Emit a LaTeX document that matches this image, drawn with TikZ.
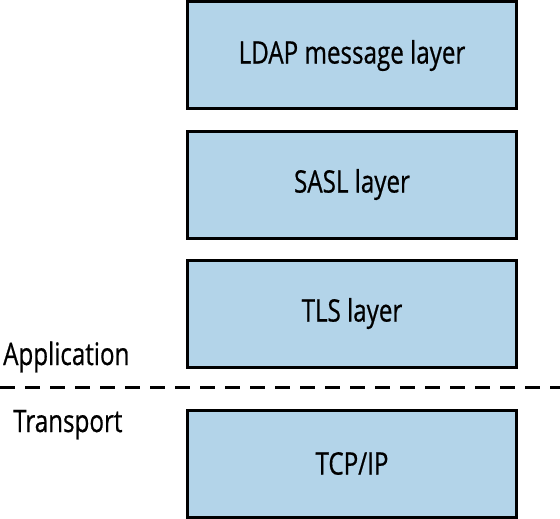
\documentclass[tikz,border=0pt]{standalone}
\usepackage{fontspec}
\setmainfont[FakeStretch=0.78, FakeBold=0.6]{Open Sans}
\usepackage{xcolor}
\usepackage{tikz}
\usetikzlibrary{positioning}

\definecolor{layerblue}{HTML}{B3D4E9}

\begin{document}
\begin{tikzpicture}[
            x=1pt, y=-1pt,
            node distance=19pt,
            layer/.style={rectangle, draw, line width=3pt, fill=layerblue, minimum width=329pt, minimum height=107pt, font=\fontsize{31}{34}\selectfont},
            side/.style={anchor=base west, inner sep=0pt, font=\fontsize{31}{34}\selectfont}
        ]
        \useasboundingbox (0,0) rectangle (560,519);

        \node[layer] (ldap) at (352,55.5) {LDAP message layer};
        \node[layer, below=of ldap] (sasl) {SASL layer};
        \node[layer, below=of sasl] (tls) {TLS layer};
        \node[layer, below=40pt of tls] (tcp) {TCP/IP};

        % Application / Transport split
        \coordinate (split_left) at (0,387);
        \coordinate (split_right) at (560,387);
        \draw[line width=3pt, dash pattern=on 15pt off 10pt] (split_left) -- (split_right);

        \node[side] (app_label) at (3,365) {Application};
        \node[side] (transport_label) at (13,432) {Transport};

    \end{tikzpicture}
\end{document}
